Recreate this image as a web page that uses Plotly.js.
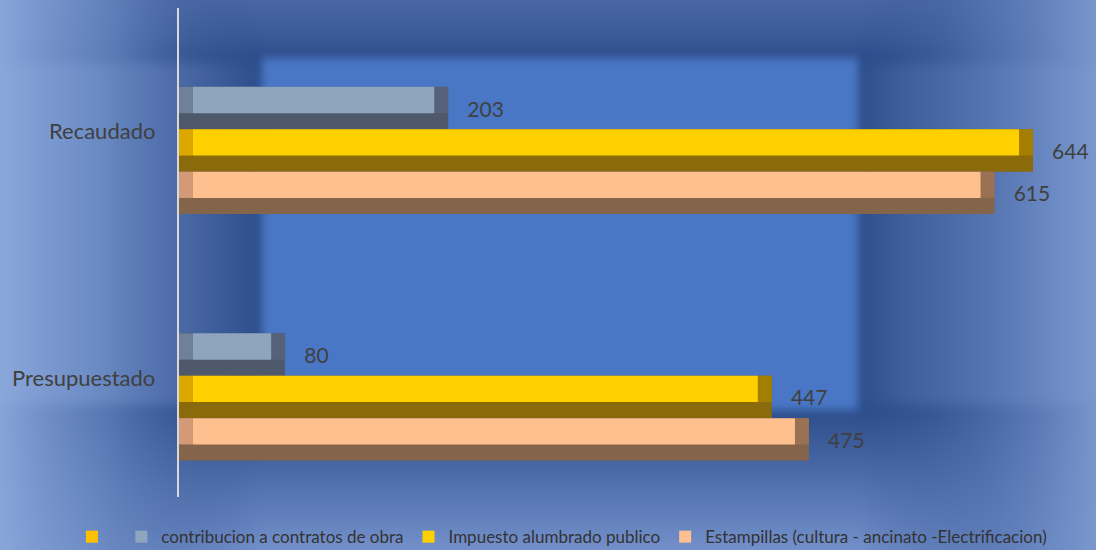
<!DOCTYPE html>
<html>
<head>
<meta charset="utf-8">
<script src="https://cdn.plot.ly/plotly-3.0.1.min.js"></script>
<style>
  html, body { margin:0; padding:0; }
  #wrap { position:relative; width:1096px; height:550px; overflow:hidden; background:#4a6aa8; }
  #bgi { position:absolute; left:0; top:0; width:1096px; height:550px; filter:blur(4px); }
  .lay { position:absolute; left:-10px; width:1116px; }
  #base { top:-10px; height:570px;
    background: linear-gradient(to right, #8aa7da 0px, #8aa7da 10px, #6a8ac4 110px, #4b6aa6 188px, #2c4c8a 272px, #2c4c8a 868px, #3c5c9a 910px, #5878b4 1010px, #7b98cf 1106px, #7b98cf 1116px); }
  #top { top:-10px; height:78px;
    background: linear-gradient(to bottom, #4d6ba7 0px, #4a68a4 10px, #3a5a98 45px, #2c4c8a 68px, rgba(44,76,138,0) 78px);
    -webkit-mask-image: linear-gradient(to right, transparent 0px, rgba(0,0,0,0.2) 130px, #000 272px, #000 868px, rgba(0,0,0,0.2) 990px, transparent 1116px);
    mask-image: linear-gradient(to right, transparent 0px, rgba(0,0,0,0.2) 130px, #000 272px, #000 868px, rgba(0,0,0,0.2) 990px, transparent 1116px); }
  #bot { top:400px; height:170px;
    background: linear-gradient(to bottom, rgba(44,76,138,0) 0px, #2c4c8a 10px, #3f5f9d 50px, #5474b0 90px, #7390ca 150px, #7390ca 170px);
    -webkit-mask-image: linear-gradient(to right, transparent 0px, rgba(0,0,0,0.3) 120px, #000 272px, #000 868px, rgba(0,0,0,0.3) 1000px, transparent 1116px);
    mask-image: linear-gradient(to right, transparent 0px, rgba(0,0,0,0.3) 120px, #000 272px, #000 868px, rgba(0,0,0,0.3) 1000px, transparent 1116px); }
  #inner { position:absolute; left:262px; top:58px; width:596px; height:352px; background:#4977c5; }
  #chart { position:absolute; left:0; top:0; width:1096px; height:550px; }
</style>
</head>
<body>
<div id="wrap">
  <div id="bgi">
    <div class="lay" id="base"></div>
    <div class="lay" id="top"></div>
    <div class="lay" id="bot"></div>
    <div id="inner"></div>
  </div>
  <div id="chart"></div>
</div>
<script>
// ---- data ----
const categories = ['Presupuestado', 'Recaudado'];
const seriesNames = ['contribucion a contratos de obra', 'Impuesto alumbrado publico', 'Estampillas (cultura - ancinato -Electrificacion)'];
const contribucion = [80, 203];
const alumbrado = [447, 644];
const estampillas = [475, 615];

// ---- styles ----
const seriesValues = [contribucion, alumbrado, estampillas];
const lightColors = ['#8fa5bf', '#ffd000', '#ffc090'];
const darkColors = ['#4e5a6b', '#8a6a0a', '#84644b'];
const bevelColors = ['#6f8099', '#dca800', '#d49a78'];
const rightBevelColors = ['#56627a', '#a37e00', '#9a7152'];
const offsets = [0.086, -0.086, -0.258];
const W = 0.172;
const bevel = 10.5;
const FONT = 'Lato, "Open Sans", sans-serif';
const nb = '\u00a0\u00a0\u00a0';

const traces = [];
// blank legend entry (empty-named series)
traces.push({type:'bar', orientation:'h', x:[0], y:[categories[1]], base:0, offset:0, width:0.0001,
  name:' ', marker:{color:'#ffc000', line:{width:0}}, legendrank:1, showlegend:true, hoverinfo:'skip'});

seriesValues.forEach((vals, i) => {
  const o = offsets[i];
  traces.push({
    type:'bar', orientation:'h', y:categories, x:vals, base:0,
    offset:o, width:W,
    marker:{color:darkColors[i], line:{width:0}, opacity:1},
    text: vals.map(String), texttemplate: nb + '%{x}', textposition:'outside',
    textfont:{size:21, color:'#404040', family:FONT}, cliponaxis:false,
    showlegend:false, hoverinfo:'skip'
  });
  traces.push({
    type:'bar', orientation:'h', y:categories, x:vals.map(() => bevel), base:0,
    offset:o + 0.38*W, width:0.62*W,
    marker:{color:bevelColors[i], line:{width:0}},
    showlegend:false, hoverinfo:'skip'
  });
  traces.push({
    type:'bar', orientation:'h', y:categories, x:vals.map(() => bevel), base:vals.map(v => v - bevel),
    offset:o + 0.38*W, width:0.62*W,
    marker:{color:rightBevelColors[i], line:{width:0}},
    showlegend:false, hoverinfo:'skip'
  });
  traces.push({
    type:'bar', orientation:'h', y:categories, x:vals.map(v => v - 2*bevel), base:bevel,
    offset:o + 0.38*W, width:0.62*W,
    marker:{color:lightColors[i], line:{width:0}},
    name: seriesNames[i], legendrank: i + 2, showlegend:true, hoverinfo:'skip'
  });
});

const annotations = categories.map(c => ({
  xref:'paper', x:0, xanchor:'right', xshift:-22,
  yref:'y', y:c, yshift:19.5, yanchor:'middle',
  text:c, showarrow:false, font:{size:22, color:'#404040', family:FONT}
}));

const layout = {
  width:1096, height:550,
  paper_bgcolor:'rgba(0,0,0,0)', plot_bgcolor:'rgba(0,0,0,0)',
  margin:{l:179, r:6, t:8, b:53, autoexpand:false},
  barmode:'overlay',
  font:{family:FONT, color:'#404040'},
  xaxis:{range:[0, 687], visible:false, fixedrange:true},
  yaxis:{type:'category', categoryarray:categories, categoryorder:'array',
         range:[-0.406, 1.578], showticklabels:false, ticks:'',
         showline:true, linecolor:'#d9d9d9', linewidth:2, showgrid:false, zeroline:false, fixedrange:true},
  legend:{orientation:'h', x:-0.1175, xanchor:'left', y:-0.082, yanchor:'middle',
          font:{size:17, color:'#333333', family:FONT}, bgcolor:'rgba(0,0,0,0)', traceorder:'normal',
          itemwidth:30, tracegroupgap:0},
  annotations: annotations,
  showlegend:true
};

Plotly.newPlot('chart', traces, layout, {displayModeBar:false, staticPlot:true});
</script>
</body>
</html>
